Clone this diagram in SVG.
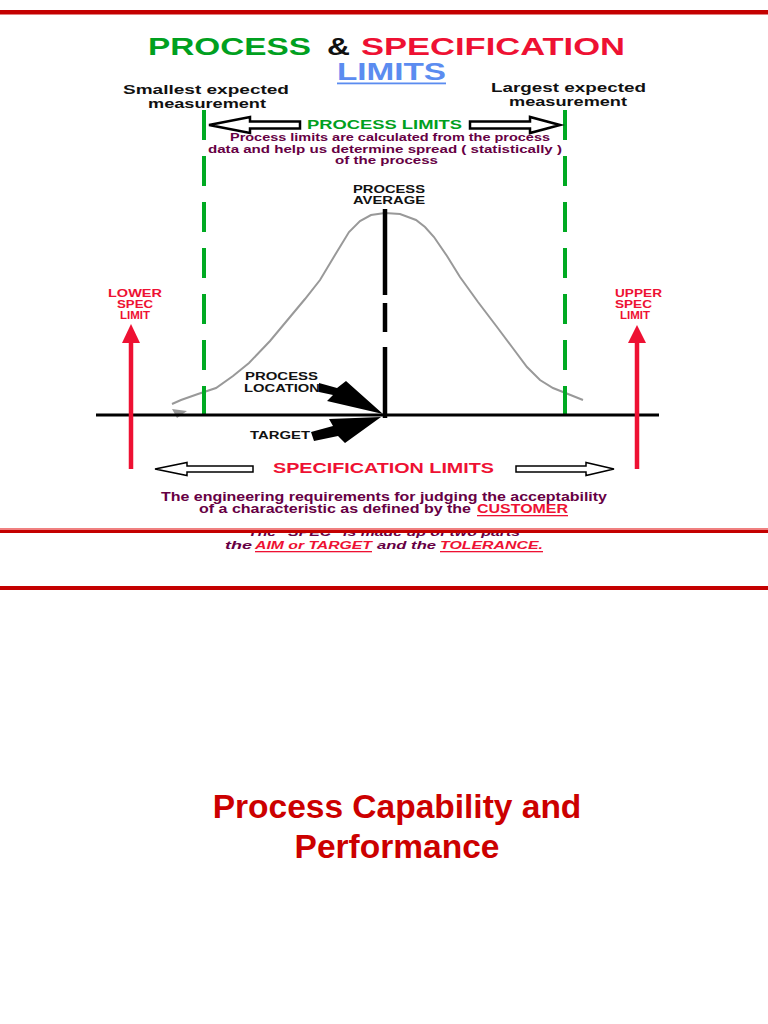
<svg xmlns="http://www.w3.org/2000/svg" width="768" height="1024" viewBox="0 0 768 1024">
<style>
text{font-family:"Liberation Sans",Arial,sans-serif;font-weight:bold;}
.blk{fill:#111;}
.pur{fill:#660044;}
.red{fill:#ee1133;}
.grn{fill:#00a020;}
.dash{stroke:#00aa22;stroke-width:4;stroke-dasharray:30 16;fill:none;}
.hollow{fill:#fff;stroke:#000;}
.redline{fill:#c40000;}
</style>
<rect width="768" height="1024" fill="#fff"/>
<rect class="redline" x="0" y="10" width="768" height="4.5"/>

<g id="title">
<text class="grn" x="148" y="55" font-size="23.5" textLength="163" lengthAdjust="spacingAndGlyphs">PROCESS</text>
<text class="blk" x="327" y="55" font-size="23.5" textLength="23" lengthAdjust="spacingAndGlyphs">&amp;</text>
<text class="red" x="361" y="55" font-size="23.5" textLength="264" lengthAdjust="spacingAndGlyphs">SPECIFICATION</text>
<text x="337" y="80" font-size="23" fill="#5b8cf0" textLength="109" lengthAdjust="spacingAndGlyphs">LIMITS</text>
<rect x="337" y="82.5" width="109" height="1.8" fill="#5b8cf0"/>
</g>

<g id="smallest-label">
<text class="blk" x="123" y="94" font-size="13" textLength="166" lengthAdjust="spacingAndGlyphs">Smallest  expected</text>
<text class="blk" x="148" y="108" font-size="13" textLength="118" lengthAdjust="spacingAndGlyphs">measurement</text>
</g>
<g id="largest-label">
<text class="blk" x="491" y="92" font-size="13" textLength="155" lengthAdjust="spacingAndGlyphs">Largest  expected</text>
<text class="blk" x="509" y="106" font-size="13" textLength="118" lengthAdjust="spacingAndGlyphs">measurement</text>
</g>

<g id="curve">
<polyline fill="none" stroke="#999" stroke-width="2" points="172,404 181,400 198,394 216,388 233,376 249,363 270,341 290,317 305,299 320,280 335,255 349,232 360,221 371,215 385,213 400,214 416,220 425,227 434,237 447,256 460,277 478,302 497,327 512,347 527,367 540,380 553,388 568,394 583,400"/>
<polygon points="172,409 187,411 177,418" fill="#999"/>
</g>

<g id="connectors">
<line class="dash" x1="204" y1="110" x2="204" y2="416"/>
<line class="dash" x1="565" y1="110" x2="565" y2="416"/>
<line x1="96" y1="415" x2="659" y2="415" stroke="#000" stroke-width="3"/>
<line x1="385" y1="209" x2="385" y2="295" stroke="#000" stroke-width="4.5"/>
<line x1="385" y1="303" x2="385" y2="332" stroke="#000" stroke-width="4.5"/>
<line x1="385" y1="347" x2="385" y2="418" stroke="#000" stroke-width="4.5"/>
<line x1="131" y1="340" x2="131" y2="469" stroke="#ee1133" stroke-width="4.5"/>
<polygon points="131,324 140,343 122,343" fill="#ee1133"/>
<line x1="637" y1="340" x2="637" y2="469" stroke="#ee1133" stroke-width="4.5"/>
<polygon points="637,325 646,343 628,343" fill="#ee1133"/>
<polygon class="hollow" stroke-width="2.5" points="209,125 250,117 250,121.5 300,121.5 300,128.5 250,128.5 250,133"/>
<polygon class="hollow" stroke-width="2.5" points="560,125 530,117 530,121.5 470,121.5 470,128.5 530,128.5 530,133"/>
<polygon class="hollow" stroke-width="1.5" points="155,469 187,462.5 187,466 253,466 253,472 187,472 187,475.5"/>
<polygon class="hollow" stroke-width="1.5" points="614,469 586,462.5 586,466 516,466 516,472 586,472 586,475.5"/>
<polygon fill="#000" points="319,383 337,388 346,381 383,414 327,401 333,395 319,392"/>
<polygon fill="#000" points="311,432 333,426 329,419 381,417 345,443 338,436 314,441"/>
</g>

<g id="process-limits">
<text class="grn" x="307" y="129" font-size="13" textLength="155" lengthAdjust="spacingAndGlyphs">PROCESS LIMITS</text>
<text class="pur" x="230" y="141" font-size="10.5" textLength="320" lengthAdjust="spacingAndGlyphs">Process  limits are calculated from the process</text>
<text class="pur" x="208" y="153" font-size="10.5" textLength="354" lengthAdjust="spacingAndGlyphs">data and help us determine spread  ( statistically )</text>
<text class="pur" x="335" y="164" font-size="10.5" textLength="103" lengthAdjust="spacingAndGlyphs">of  the  process</text>
</g>

<g id="process-average">
<text class="blk" x="353" y="193" font-size="11" textLength="72" lengthAdjust="spacingAndGlyphs">PROCESS</text>
<text class="blk" x="353" y="204" font-size="11" textLength="72" lengthAdjust="spacingAndGlyphs">AVERAGE</text>
</g>

<g id="lower-spec">
<text class="red" x="108" y="297" font-size="11" textLength="54" lengthAdjust="spacingAndGlyphs">LOWER</text>
<text class="red" x="117" y="308" font-size="11" textLength="36" lengthAdjust="spacingAndGlyphs">SPEC</text>
<text class="red" x="120" y="319" font-size="11" textLength="30" lengthAdjust="spacingAndGlyphs">LIMIT</text>
</g>
<g id="upper-spec">
<text class="red" x="615" y="297" font-size="11" textLength="47" lengthAdjust="spacingAndGlyphs">UPPER</text>
<text class="red" x="615" y="308" font-size="11" textLength="37" lengthAdjust="spacingAndGlyphs">SPEC</text>
<text class="red" x="620" y="319" font-size="11" textLength="30" lengthAdjust="spacingAndGlyphs">LIMIT</text>
</g>

<g id="process-location">
<text class="blk" x="245" y="380" font-size="11" textLength="73" lengthAdjust="spacingAndGlyphs">PROCESS</text>
<text class="blk" x="244" y="392" font-size="11" textLength="76" lengthAdjust="spacingAndGlyphs">LOCATION</text>
</g>
<g id="target">
<text class="blk" x="250" y="439" font-size="11" textLength="60" lengthAdjust="spacingAndGlyphs">TARGET</text>
</g>

<g id="spec-limits">
<text class="red" x="273" y="473" font-size="14" textLength="221" lengthAdjust="spacingAndGlyphs">SPECIFICATION LIMITS</text>
</g>

<g id="engineering">
<text class="pur" x="161" y="501" font-size="12" textLength="446" lengthAdjust="spacingAndGlyphs">The engineering requirements for judging the acceptability</text>
<text class="pur" x="199" y="513" font-size="12" textLength="272" lengthAdjust="spacingAndGlyphs">of a characteristic as defined by the</text>
<text class="red" x="477" y="513" font-size="12" textLength="91" lengthAdjust="spacingAndGlyphs">CUSTOMER</text>
<rect x="477" y="515" width="91" height="1.3" fill="#ee1133"/>
</g>

<g id="spec-parts">
<text class="pur" x="248" y="536" font-size="11.5" font-style="italic" textLength="272" lengthAdjust="spacingAndGlyphs">The  "SPEC"  is made up of two parts</text>
<rect x="0" y="519" width="768" height="9" fill="#fff"/>
<rect x="0" y="528" width="768" height="2" fill="#f08080"/>
<rect class="redline" x="0" y="530" width="768" height="3"/>
<text class="pur" x="225" y="549" font-size="11.5" font-style="italic" textLength="27" lengthAdjust="spacingAndGlyphs">the</text>
<text class="red" x="255" y="549" font-size="11.5" font-style="italic" textLength="117" lengthAdjust="spacingAndGlyphs">AIM or TARGET</text>
<rect x="255" y="551" width="117" height="1.3" fill="#ee1133"/>
<text class="pur" x="377" y="549" font-size="11.5" font-style="italic" textLength="59" lengthAdjust="spacingAndGlyphs">and the</text>
<text class="red" x="440" y="549" font-size="11.5" font-style="italic" textLength="103" lengthAdjust="spacingAndGlyphs">TOLERANCE.</text>
<rect x="440" y="551" width="103" height="1.3" fill="#ee1133"/>
</g>

<rect class="redline" x="0" y="586" width="768" height="4"/>

<g id="heading">
<text x="397" y="818" font-size="33.5" fill="#cc0000" text-anchor="middle">Process Capability and</text>
<text x="397" y="858" font-size="33.5" fill="#cc0000" text-anchor="middle">Performance</text>
</g>
</svg>
